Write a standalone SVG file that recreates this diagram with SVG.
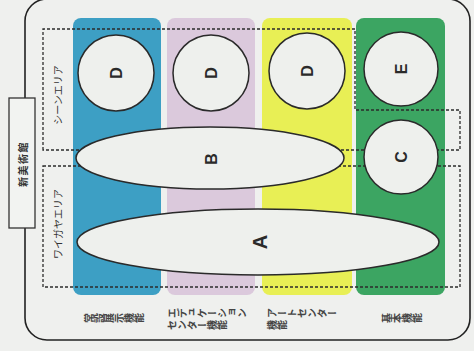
<svg xmlns="http://www.w3.org/2000/svg" width="474" height="351" viewBox="0 0 474 351">
<style>
.col{stroke:none}
.dash{fill:none;stroke:#2b2b2b;stroke-width:1.3;stroke-dasharray:3 2}
.shape{fill:#eef0ed;stroke:#2a2a2a;stroke-width:1.5}
.let{font-family:"Liberation Sans",Arial,sans-serif;font-weight:bold;fill:#2a2a2a;text-anchor:middle;dominant-baseline:central}
.jp{font-family:"Noto Sans CJK JP","Noto Sans",sans-serif;fill:#333;font-size:10px;text-anchor:middle;dominant-baseline:central}
.vt{font-family:"Noto Sans CJK JP","Noto Sans",sans-serif;fill:#444;font-size:10px;font-weight:bold;writing-mode:vertical-rl}
</style>
<rect x="0" y="0" width="474" height="351" fill="#eff0ee"/>
<rect x="25" y="-1" width="445" height="341" rx="22" fill="none" stroke="#222" stroke-width="1.6"/>
<g id="museum">
<rect x="9" y="98" width="26" height="130" fill="#f2f3f1" stroke="#333" stroke-width="1.3"/>
<text class="jp" x="22" y="164" font-size="13" font-weight="bold" letter-spacing="1.5" transform="rotate(-90 22 164)">新美術館</text>
</g>
<g id="columns">
<rect id="col-blue" class="col" x="73" y="18" width="88" height="277" rx="8" fill="#3d9fc4"/>
<rect id="col-purple" class="col" x="167" y="18" width="88" height="277" rx="8" fill="#dbc9dc"/>
<rect id="col-yellow" class="col" x="262" y="18" width="90" height="277" rx="8" fill="#e8ef55"/>
<rect id="col-green" class="col" x="356" y="18" width="89" height="277" rx="8" fill="#3ca562"/>
</g>
<g id="connectors">
<path id="scene-area" class="dash" d="M43,150 L43,29 L355,29 L355,110 L460,110 L460,150 Z"/>
<rect id="waigaya-area" class="dash" x="43" y="166" width="417" height="121"/>
</g>
<g id="area-labels">
<text class="jp" x="57" y="95" transform="rotate(-90 57 95)">シーンエリア</text>
<text class="jp" x="57" y="224" transform="rotate(-90 57 224)">ワイガヤエリア</text>
</g>
<g id="node-B"><ellipse class="shape" cx="210" cy="158" rx="134" ry="31"/><text class="let" x="211" y="159" font-size="16" transform="rotate(-90 211 159)">B</text></g>
<g id="node-A"><ellipse class="shape" cx="258" cy="242" rx="181" ry="33"/><text class="let" x="260" y="242" font-size="20" transform="rotate(-90 260 242)">A</text></g>
<g id="node-D1"><circle class="shape" cx="116" cy="73" r="38"/><text class="let" x="116" y="73" font-size="16" transform="rotate(-90 116 73)">D</text></g>
<g id="node-D2"><circle class="shape" cx="211" cy="73" r="38"/><text class="let" x="211" y="73" font-size="16" transform="rotate(-90 211 73)">D</text></g>
<g id="node-D3"><circle class="shape" cx="307" cy="71" r="38"/><text class="let" x="307" y="71" font-size="16" transform="rotate(-90 307 71)">D</text></g>
<g id="node-E"><circle class="shape" cx="401" cy="69" r="37"/><text class="let" x="401" y="69" font-size="16" transform="rotate(-90 401 69)">E</text></g>
<g id="node-C"><circle class="shape" cx="401" cy="157" r="37"/><text class="let" x="401" y="157" font-size="16" transform="rotate(-90 401 157)">C</text></g>
<g id="bottom-labels">
<g transform="translate(84,318) rotate(-90)"><text class="vt" x="0" y="0">常設展示機能</text></g>
<g transform="translate(167,313) rotate(-90)"><text class="vt"><tspan x="0" y="0">エデュケーション</tspan><tspan x="-12" y="0">センター機能</tspan></text></g>
<g transform="translate(267,313) rotate(-90)"><text class="vt"><tspan x="0" y="0">アートセンター</tspan><tspan x="-12" y="0">機能</tspan></text></g>
<g transform="translate(382,318) rotate(-90)"><text class="vt" x="0" y="0">基本機能</text></g>
</g>
</svg>
